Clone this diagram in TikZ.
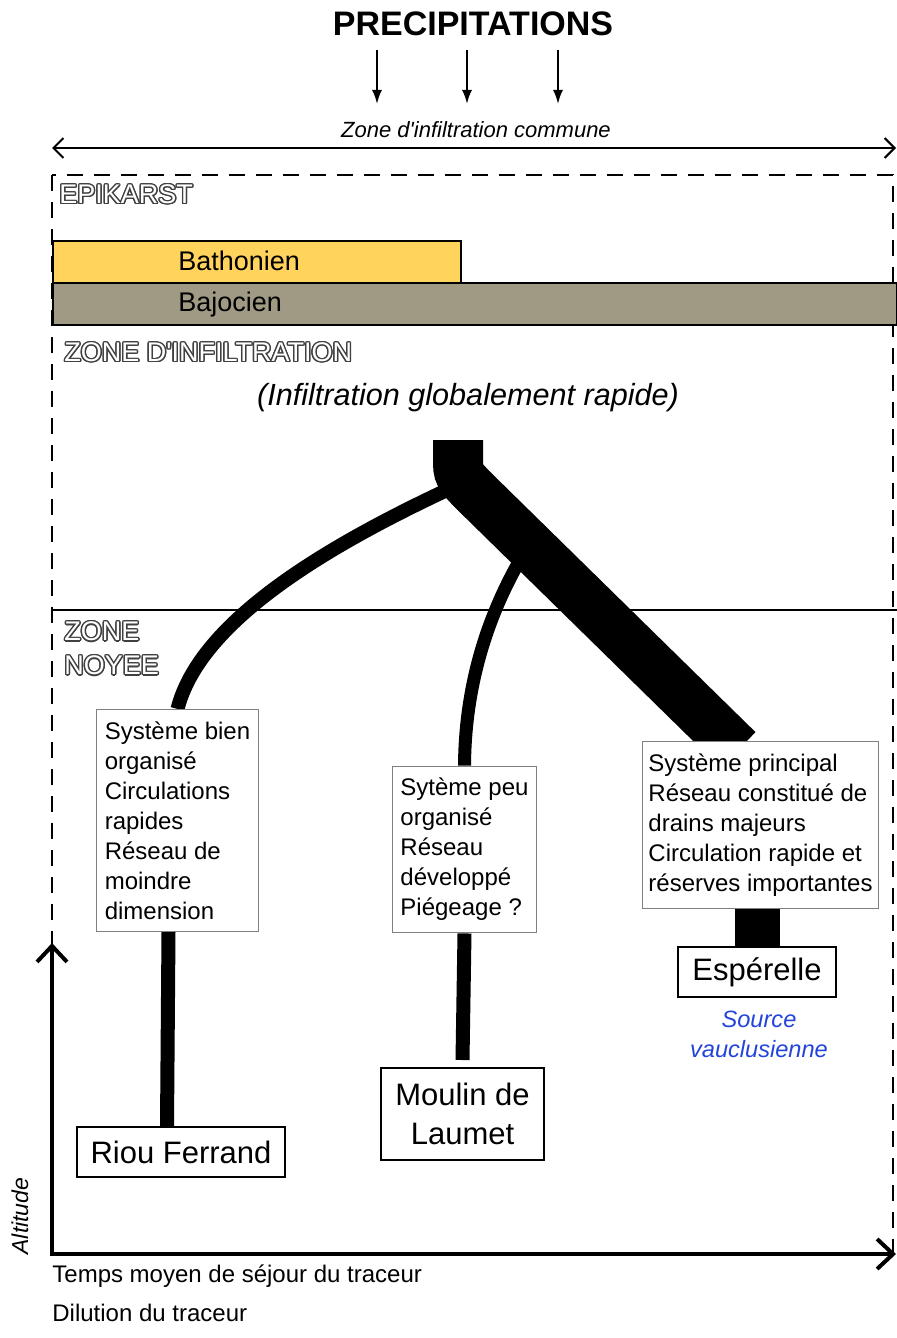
\documentclass[tikz,border=0pt]{standalone}
\usepackage{fontspec}
\setmainfont{Liberation Sans}
\usepackage[copies]{contour}
\usepackage{tikz}
\usetikzlibrary{arrows.meta,backgrounds}
\definecolor{bathcol}{HTML}{FFD35C}
\definecolor{bajocol}{HTML}{A09A85}
\definecolor{srcblue}{HTML}{2244DD}
\contourlength{0.7pt}
\newcommand{\zonetxt}[1]{\contour{black!75}{\textcolor{white}{#1}}}

\tikzset{
  infobox/.style={draw=black!50, line width=0.6pt, fill=white, align=left,
    inner xsep=4pt, inner ysep=6pt, font=\fontsize{12}{15}\selectfont},
  source/.style={draw, line width=1pt, fill=white, align=center,
    inner xsep=7pt, minimum height=25pt, font=\fontsize{15.5}{19.5}\selectfont},
  zone/.style={anchor=west, inner sep=0pt, align=left, font=\fontsize{13.5}{17}\selectfont},
  flow/.style={line width=7pt},
}

\begin{document}
\begin{tikzpicture}[x=0.5pt,y=-0.5pt]
  \useasboundingbox (0,0) rectangle (897,1338);

  % rain
  \node[font=\bfseries\fontsize{17}{20}\selectfont] (precip) at (473,24) {PRECIPITATIONS};
  \foreach \xx in {377,467,558}
    \draw[line width=1pt,-{Latex[length=7pt,width=5pt]}] (\xx,50) -- (\xx,104);
  \node[font=\itshape\fontsize{11}{13}\selectfont] (commune) at (476,130) {Zone d\textquotesingle infiltration commune};
  \draw[line width=1pt,{Straight Barb[length=5pt,width=10pt]}-{Straight Barb[length=5pt,width=10pt]}] (52,148) -- (896,148);

  % frame and layers
  \draw[line width=1pt, dash pattern=on 8pt off 5.5pt] (52,175) rectangle (893,1253);
  \draw[line width=0.8pt, fill=bajocol] (53,283) rectangle (897,325);
  \draw[line width=0.8pt, fill=bathcol] (53,241) rectangle (461,283);
  \node[anchor=west, inner sep=0pt, font=\fontsize{13.5}{16}\selectfont] (bath) at (178,261) {Bathonien};
  \node[anchor=west, inner sep=0pt, font=\fontsize{13.5}{16}\selectfont] (bajo) at (178,305) {Bajocien};
  \draw[line width=0.9pt] (52,610) -- (897,610);

  \node[zone] (epi) at (59,195) {\zonetxt{EPIKARST}};
  \node[zone] (zinf) at (64,353) {\zonetxt{ZONE D\textquotesingle INFILTRATION}};
  \node[zone] (znoy) at (64,649) {\zonetxt{ZONE}\\\zonetxt{NOYEE}};
  \node[font=\itshape\fontsize{15.3}{18}\selectfont] (global) at (468,398) {(Infiltration globalement rapide)};

  % systems
  \node[infobox] (bien) at (177.5,820.5) {Système bien\\organisé\\Circulations\\rapides\\Réseau de\\moindre\\dimension};
  \node[infobox] (peu) at (464.5,849.5) {Sytème peu\\organisé\\Réseau\\développé\\Piégeage ?};
  \node[infobox, inner xsep=3pt] (princ) at (760.5,825) {Système principal\\Réseau constitué de\\drains majeurs\\Circulation rapide et\\réserves importantes};

  \node[source] (riou) at (181,1152) {Riou Ferrand};
  \node[source, minimum height=46pt] (moulin) at (462.5,1114) {Moulin de\\Laumet};
  \node[source] (esp) at (757,972) {Espérelle};
  \node[text=srcblue, align=center, font=\itshape\fontsize{11.8}{15}\selectfont] (vauclu) at (759,1034) {Source\\vauclusienne};

  % flows
  \coordinate (top) at (458,440);
  \coordinate (bend) at (458,458);
  \coordinate (knee) at (478,495);
  \coordinate (fork1) at (447,490);
  \coordinate (fork2) at (520,560);
  \coordinate (trunkend) at (738,750);
  \begin{scope}[on background layer]
    \draw[line width=25pt] (top) -- (bend) .. controls (458,475) .. (knee) -- (trunkend);
    \draw[flow] (fork1) .. controls (330,545) and (200,620) .. (bien.north);
    \draw[flow, line width=6.5pt] (fork2) .. controls (480,630) and (465,700) .. (peu.north);
  \end{scope}
  \draw[flow] ([xshift=-4.5pt]bien.south) -- ([xshift=-7pt]riou.north);
  \draw[flow] (peu.south) -- ([yshift=3.5pt]moulin.north);
  \draw[line width=22.5pt] (esp.north |- princ.south) -- (esp.north);

  % axes
  \coordinate (origin) at (52,1254);
  \draw[line width=2pt, {Straight Barb[length=8pt,width=15pt]}-{Straight Barb[length=8pt,width=15pt]}] (52,943) -- (origin) -- (896,1254);
  \node[rotate=90, font=\itshape\fontsize{11.5}{14}\selectfont] (alt) at (20,1216) {Altitude};
  \node[anchor=west, inner sep=0pt, font=\fontsize{12}{15}\selectfont] (temps) at (52,1276) {Temps moyen de séjour du traceur};
  \node[anchor=west, inner sep=0pt, font=\fontsize{12}{15}\selectfont] (dil) at (52,1313) {Dilution du traceur};
\end{tikzpicture}
\end{document}
